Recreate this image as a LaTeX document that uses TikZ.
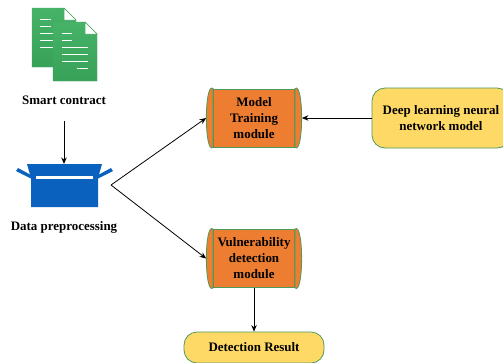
\documentclass[tikz,border=0pt]{standalone}
\usepackage{fontspec}
\setmainfont{Liberation Serif}
\usetikzlibrary{arrows.meta,calc}
\definecolor{edgegreen}{HTML}{4C9A5C}
\definecolor{boxorange}{HTML}{ED7D31}
\definecolor{boxyellow}{HTML}{FFD966}
\definecolor{boxblue}{HTML}{0A62BE}
\definecolor{doctop}{HTML}{46B368}
\definecolor{docbot}{HTML}{37A158}
\tikzset{
  lbl/.style={font=\bfseries\fontsize{13}{16}\selectfont,align=center,text=black,inner sep=0},
  procbox/.style={draw=edgegreen,line width=0.8pt,fill=boxorange,inner sep=0,minimum width=81bp,minimum height=58bp},
  proctext/.style={lbl,text width=110bp},
  termbox/.style={lbl,draw=edgegreen,line width=0.8pt,fill=boxyellow,rounded corners=13bp},
  conn/.style={draw=black,line width=0.8pt,-{Stealth[length=6.5bp,width=5.5bp]}},
  bulge/.style={draw=edgegreen,line width=0.8pt,fill=boxorange},
  docsheet/.style={draw=edgegreen!70!doctop,line width=0.4pt,top color=doctop,bottom color=docbot},
  docfold/.style={draw=edgegreen!70!doctop,line width=0.5pt,fill=white},
  docline/.style={draw=white,line width=1bp},
  carton/.style={fill=boxblue,draw=none}
}
\newcommand{\docpage}[2]{%
  \path[docsheet] (#1,#2) -- (#1+32,#2) -- (#1+44,#2+12) -- (#1+44,#2+59) -- (#1,#2+59) -- cycle;
  \path[docfold] (#1+32,#2) -- (#1+44,#2+12) -- (#1+32,#2+12) -- cycle;
}
\newcommand{\sidebulges}[1]{%
  \draw[bulge] (#1.north west) .. controls ([shift={(-9bp,8bp)}]#1.north west) and ([shift={(-9bp,-8bp)}]#1.south west) .. (#1.south west) -- cycle;
  \draw[bulge] (#1.north east) .. controls ([shift={(9bp,8bp)}]#1.north east) and ([shift={(9bp,-8bp)}]#1.south east) .. (#1.south east) -- cycle;
}
\begin{document}
\begin{tikzpicture}[x=1bp,y=-1bp]
\useasboundingbox (0,0) rectangle (503,362);
% documents
\docpage{32}{8}
\foreach \yy/\xa/\xb in {19/40/51,26/40/51,33/40/53,40.5/40/53,47/40/53}
  \draw[docline] (\xa,\yy) -- (\xb,\yy);
\docpage{53}{22}
\foreach \yy/\xa/\xb in {33/62/72,40/62/72,47/62/88,54/62/88,61/62/88,68/77/88}
  \draw[docline] (\xa,\yy) -- (\xb,\yy);
\node[lbl] (smart) at (64,100) {Smart contract};
% carton
\fill[carton] (27,164) -- (102,164) -- (98,178) -- (98,207) -- (31,207) -- (31,178) -- cycle;
\fill[carton] (18,168) -- (16,171) -- (32,179) -- (31,175) -- cycle;
\fill[carton] (111,168) -- (113,171) -- (97,179) -- (98,175) -- cycle;
\fill[white] (36,176) rectangle (93,179);
\coordinate (cartontop) at (64,164);
\coordinate (smartout) at (64,121);
\coordinate (split) at (111,185);
\node[lbl] (prep) at (64,227) {Data preprocessing};
% process nodes
\node[procbox] (model) at (254,118) {};
\sidebulges{model}
\node[proctext] (modeltext) at (model) {Model\\Training\\module};
\coordinate (modelL) at ([xshift=-7bp]model.west);
\coordinate (modelR) at ([xshift=7bp]model.east);
\node[procbox] (vuln) at (254,258.5) {};
\sidebulges{vuln}
\node[proctext] (vulntext) at (vuln) {Vulnerability\\detection\\module};
\coordinate (vulnL) at ([xshift=-7bp]vuln.west);
% terminals
\node[termbox,minimum width=138bp,minimum height=60bp] (deep) at (441,118) {Deep learning neural\\network model};
\node[termbox,minimum width=140bp,minimum height=31bp] (result) at (254,347.5) {Detection Result};
% connectors
\draw[conn] (smartout) -- (cartontop);
\draw[conn] (split) -- (modelL);
\draw[conn] (split) -- (vulnL);
\draw[conn] (deep.west) -- (modelR);
\draw[conn] (vuln.south) -- (result.north);
\end{tikzpicture}
\end{document}
